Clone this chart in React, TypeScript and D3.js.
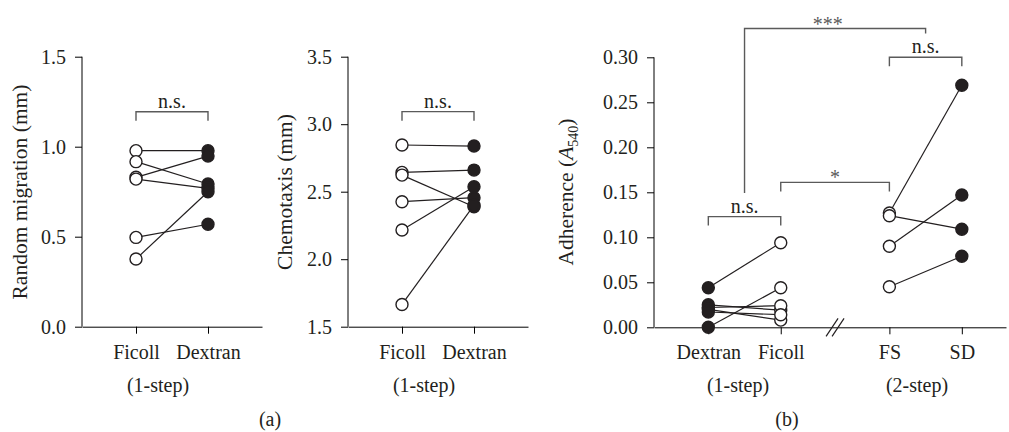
import React, { useEffect, useRef } from "react";
import * as d3 from "d3";

const width = 1009;
const height = 432;
const font = "'Liberation Serif', 'Times New Roman', serif";

// (a) left: random migration, 1-step
const migTicks = [0, 0.5, 1.0, 1.5];
const migCats = ["Ficoll", "Dextran"];
const migFicoll = [0.978, 0.917, 0.83, 0.82, 0.496, 0.376];
const migDextran = [0.978, 0.793, 0.948, 0.769, 0.569, 0.75];

// (a) right: chemotaxis, 1-step
const chemoTicks = [1.5, 2.0, 2.5, 3.0, 3.5];
const chemoCats = ["Ficoll", "Dextran"];
const chemoFicoll = [2.846, 2.643, 2.623, 2.426, 2.216, 1.665];
const chemoDextran = [2.838, 2.66, 2.389, 2.456, 2.537, 2.4];

// (b) adherence, 1-step and 2-step
const adhTicks = [0, 0.05, 0.1, 0.15, 0.2, 0.25, 0.3];
const adhCats = ["Dextran", "Ficoll", "FS", "SD"];
const adhCatPos = [0, 1, 2.5, 3.5];
const adhDextran = [0.044, 0.0, 0.025, 0.022, 0.02, 0.017];
const adhFicoll = [0.094, 0.044, 0.019, 0.024, 0.008, 0.014];
const adhFS = [0.127, 0.124, 0.09, 0.045];
const adhSD = [0.269, 0.109, 0.147, 0.079];

function App() {
  const svgRef = useRef(null);

  useEffect(() => {
    const svg = d3.select(svgRef.current);
    svg.selectAll("*").remove();

    const panels = [
      {
        left: 82, right: 262, top: 56.7, bottom: 326.7,
        y: [0, 1.5], ticks: migTicks, fmt: ".1f",
        x: [-0.75, 1.75], cats: migCats, catPos: [0, 1],
        pairs: [{ a: migFicoll, b: migDextran, ia: 0, ib: 1, fillA: false }],
        brackets: [{ x1: 0, x2: 1, y: 1.194, legL: 9, legR: 9, label: "n.s.", mid: null }],
        title: "Random migration (mm)", titleX: 26.7,
        group: "(1-step)", groupX: 158, tag: "(a)", tagX: 270,
      },
      {
        left: 348, right: 528, top: 56.7, bottom: 326.7,
        y: [1.5, 3.5], ticks: chemoTicks, fmt: ".1f",
        x: [-0.75, 1.75], cats: chemoCats, catPos: [0, 1],
        pairs: [{ a: chemoFicoll, b: chemoDextran, ia: 0, ib: 1, fillA: false }],
        brackets: [{ x1: 0, x2: 1, y: 3.093, legL: 9, legR: 9, label: "n.s.", mid: null }],
        title: "Chemotaxis (mm)", titleX: 291.7,
        group: "(1-step)", groupX: 424, tag: null, tagX: 0,
      },
      {
        left: 654, right: 1006, top: 57.3, bottom: 327.3,
        y: [0, 0.3], ticks: adhTicks, fmt: ".2f",
        x: [-0.75, 4.11], cats: adhCats, catPos: adhCatPos,
        pairs: [
          { a: adhDextran, b: adhFicoll, ia: 0, ib: 1, fillA: true },
          { a: adhFS, b: adhSD, ia: 2.5, ib: 3.5, fillA: false },
        ],
        brackets: [
          { x1: 0, x2: 1, y: 0.123, legL: 9, legR: 9, label: "n.s.", mid: null },
          { x1: 1, x2: 2.5, y: 0.161, legL: 9, legR: 9, label: "*", mid: null },
          { x1: 2.5, x2: 3.5, y: 0.3, legL: 9, legR: 9, label: "n.s.", mid: null },
          { x1: 0.5, x2: 3.0, y: 0.332, legL: 164.6, legR: 5, label: "***", mid: 1.65 },
        ],
        title: null, titleX: 573,
        group: "(1-step)", groupX: 738, tag: "(b)", tagX: 787,
        group2: "(2-step)", group2X: 917,
      },
    ];

    panels.forEach((p) => {
      const x = d3.scaleLinear().domain(p.x).range([p.left, p.right]);
      const y = d3.scaleLinear().domain(p.y).range([p.bottom, p.top]);
      const g = svg.append("g");

      // y axis
      g.append("g")
        .attr("transform", `translate(${p.left},0)`)
        .call(
          d3.axisLeft(y).tickValues(p.ticks).tickFormat(d3.format(p.fmt))
            .tickSize(7).tickPadding(9).tickSizeOuter(0)
        )
        .call((a) => a.select(".domain").attr("d", `M-0,${p.top}V${p.bottom}`))
        .attr("font-family", font)
        .attr("font-size", 20)
        .call((a) => a.selectAll("text").attr("fill", "#231f20"));

      // x axis
      g.append("g")
        .attr("transform", `translate(0,${p.bottom})`)
        .call(
          d3.axisBottom(x).tickValues(p.catPos)
            .tickFormat((d, i) => p.cats[i])
            .tickSize(7).tickPadding(11).tickSizeOuter(0)
        )
        .attr("font-family", font)
        .attr("font-size", 20)
        .call((a) => a.selectAll("text").attr("fill", "#231f20"));

      // axis break for panel (b)
      if (p.group2) {
        const bx = x(1.75);
        [-3, 3].forEach((o) => {
          g.append("line")
            .attr("x1", bx + o - 6).attr("y1", p.bottom + 9)
            .attr("x2", bx + o + 6).attr("y2", p.bottom - 9)
            .attr("stroke", "#231f20").attr("stroke-width", 1.2);
        });
      }

      // paired lines + circles
      p.pairs.forEach((pr) => {
        pr.a.forEach((va, i) => {
          g.append("line")
            .attr("x1", x(pr.ia)).attr("y1", y(va))
            .attr("x2", x(pr.ib)).attr("y2", y(pr.b[i]))
            .attr("stroke", "#231f20").attr("stroke-width", 1.2);
        });
        const drawDots = (vals, xi, filled) => {
          g.selectAll(null)
            .data(vals)
            .enter()
            .append("circle")
            .attr("cx", x(xi))
            .attr("cy", (d) => y(d))
            .attr("r", 6)
            .attr("fill", filled ? "#231f20" : "white")
            .attr("stroke", "#231f20")
            .attr("stroke-width", 1.4);
        };
        drawDots(pr.a, pr.ia, pr.fillA);
        drawDots(pr.b, pr.ib, !pr.fillA);
      });

      // significance brackets
      p.brackets.forEach((b) => {
        const by = y(b.y);
        g.append("path")
          .attr("d", `M${x(b.x1)},${by + b.legL}V${by}H${x(b.x2)}V${by + b.legR}`)
          .attr("fill", "none")
          .attr("stroke", "#5a5a5a")
          .attr("stroke-width", 1.4);
        const star = b.label.startsWith("*");
        g.append("text")
          .attr("x", b.mid !== null ? x(b.mid) : (x(b.x1) + x(b.x2)) / 2)
          .attr("y", star ? by + 2 : by - 4)
          .attr("text-anchor", "middle")
          .attr("font-family", font)
          .attr("font-size", 20)
          .attr("fill", star ? "#5a5a5a" : "#231f20")
          .text(b.label);
      });

      // axis title
      const yMid = 192;
      const t = g.append("text")
        .attr("transform", `translate(${p.titleX},${yMid}) rotate(-90)`)
        .attr("text-anchor", "middle")
        .attr("font-family", font)
        .attr("font-size", 21.5)
        .attr("fill", "#231f20");
      if (p.title) {
        t.text(p.title);
      } else {
        t.append("tspan").text("Adherence (");
        t.append("tspan").attr("font-style", "italic").text("A");
        t.append("tspan").attr("font-size", 14).attr("dy", 5).text("540");
        t.append("tspan").attr("dy", -5).text(")");
      }

      // group labels
      const lbl = (txt, lx, ly) =>
        g.append("text")
          .attr("x", lx).attr("y", ly)
          .attr("text-anchor", "middle")
          .attr("font-family", font)
          .attr("font-size", 20)
          .attr("fill", "#231f20")
          .text(txt);
      lbl(p.group, p.groupX, 392);
      if (p.group2) lbl(p.group2, p.group2X, 392);
      if (p.tag) lbl(p.tag, p.tagX, 426);
    });
  }, []);

  return (
    <svg
      ref={svgRef}
      width={width}
      height={height}
      style={{ position: "absolute", left: 0, top: 0, background: "white" }}
    />
  );
}

export default App;
